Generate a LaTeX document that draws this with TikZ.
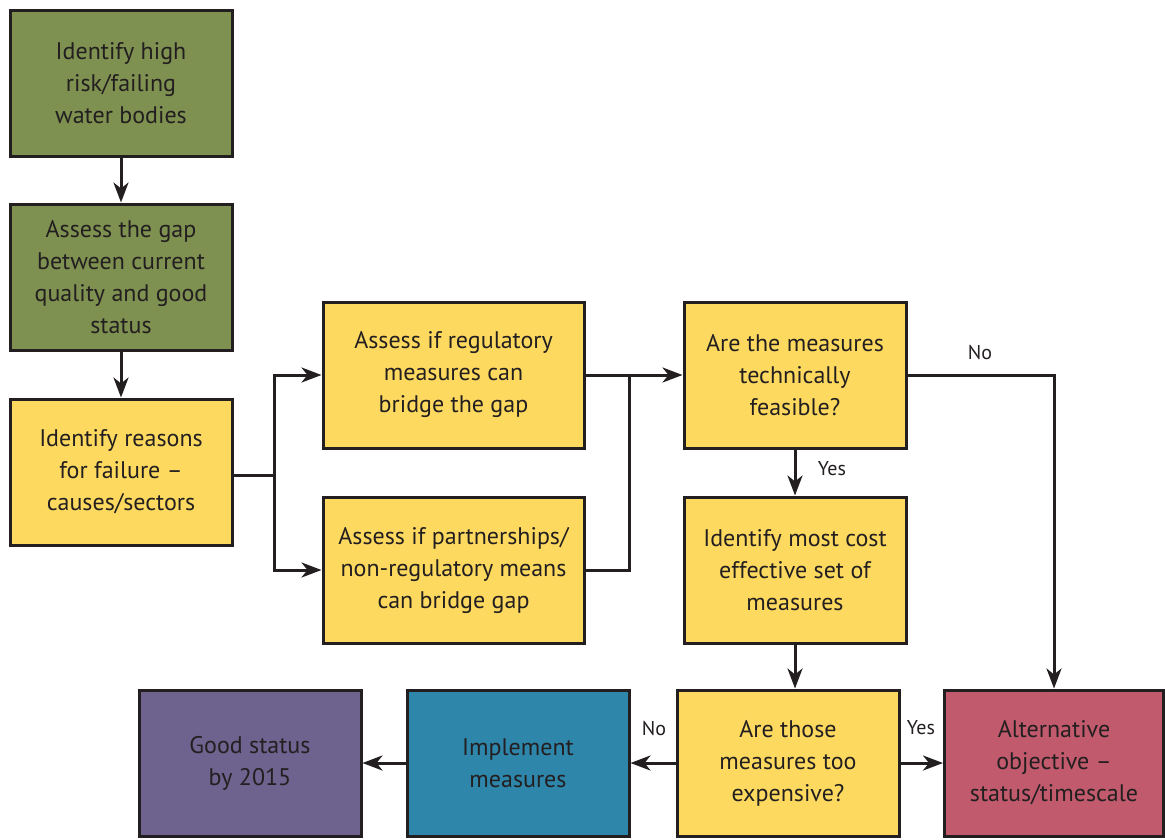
\documentclass[tikz,border=0pt]{standalone}
\usepackage{fontspec}
\setmainfont{PT Sans}
\usetikzlibrary{arrows.meta}
\definecolor{cgreen}{RGB}{126,145,80}
\definecolor{cyellow}{RGB}{253,218,95}
\definecolor{cred}{RGB}{192,90,108}
\definecolor{cblue}{RGB}{46,134,171}
\definecolor{cpurple}{RGB}{110,98,142}
\definecolor{ctext}{RGB}{35,31,32}
\tikzset{
  box/.style={draw=ctext, line width=3pt, minimum height=146pt, inner sep=0pt,
    align=center, text=ctext, font=\fontsize{24}{32}\selectfont},
  narrow/.style={box, minimum width=222pt},
  wide/.style={box, minimum width=261pt},
  conn/.style={draw=ctext, line width=3pt},
  arr/.style={conn, -{Stealth[length=20pt,width=15pt,inset=6pt]}},
  lbl/.style={text=ctext, font=\fontsize{20}{22}\selectfont, inner sep=0pt},
}
\begin{document}
\begin{tikzpicture}[x=1pt,y=-1pt]
\useasboundingbox (0,0) rectangle (1165,839);
\node[narrow, fill=cgreen] (b1) at (121,83) {Identify high\\risk/failing\\water bodies};
\node[narrow, fill=cgreen] (b2) at (121,277) {Assess the gap\\between current\\quality and good\\status};
\node[narrow, fill=cyellow] (b3) at (121,472) {Identify reasons\\for failure --\\causes/sectors};
\node[wide, fill=cyellow] (b4) at (453.5,375) {Assess if regulatory\\measures can\\bridge the gap};
\node[wide, fill=cyellow] (b5) at (453.5,570) {Assess if partnerships/\\non-regulatory means\\can bridge gap};
\node[narrow, fill=cyellow] (b6) at (795,375) {Are the measures\\technically\\feasible?};
\node[narrow, fill=cyellow] (b7) at (795,570) {Identify most cost\\effective set of\\measures};
\node[narrow, fill=cyellow] (b8) at (788,763) {Are those\\measures too\\expensive?};
\node[box, minimum width=219pt, fill=cred] (b9) at (1054,763) {Alternative\\objective --\\status/timescale};
\node[narrow, fill=cblue] (b10) at (518,763) {Implement\\measures};
\node[narrow, fill=cpurple] (b11) at (250,763) {Good status\\by 2015};

\coordinate (j1) at (274,475);
\coordinate (j2) at (629,375);

\draw[arr] (b1) -- (b2);
\draw[arr] (b2) -- (b3);
\draw[conn] (b3.east |- j1) -- (j1);
\draw[arr] (j1) |- (b4.west);
\draw[arr] (j1) |- (b5.west);
\draw[conn] (b4.east) -- (j2);
\draw[conn] (b5.east) -| (j2);
\draw[arr] (j2) -- (b6.west);
\draw[arr] (b6.east) -| (b9.north);
\draw[arr] (b6.south) -- (b7.north);
\draw[arr] (b7.south) -- (b7.south |- b8.north);
\draw[arr] (b8.west) -- (b10.east);
\draw[arr] (b8.east) -- (b9.west);
\draw[arr] (b10.west) -- (b11.east);

\node[lbl] (no1) at (980,353) {No};
\node[lbl] (yes1) at (832,469) {Yes};
\node[lbl] (no2) at (654,728) {No};
\node[lbl] (yes2) at (921,728) {Yes};
\end{tikzpicture}
\end{document}
